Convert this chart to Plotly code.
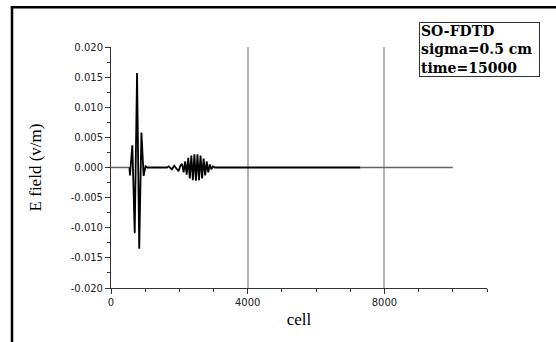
import plotly.graph_objects as go

# ---- data (turning points of the E-field trace) ----
lead_cell = [0, 540]
lead_e = [0.0, 0.0]

main_cell = [540, 554, 624, 694, 762, 826, 890, 955, 1010, 1060,
             1640, 1690, 1780, 1850, 1920, 1975, 2030,
             2080, 2125, 2170, 2215, 2260, 2305, 2350, 2395, 2440, 2485,
             2530, 2575, 2620, 2665, 2710, 2755, 2800, 2845, 2890, 2935,
             2980, 3030, 7300]
main_e = [0.0, -0.0013, 0.0037, -0.0109, 0.0157, -0.0135, 0.0058, -0.0014, 0.0002, 0.0,
          0.0, 0.0002, -0.0003, 0.0003, -0.0002, -0.0006, 0.0003,
          0.0006, -0.0008, 0.0010, -0.0012, 0.0016, -0.0018, 0.0020, -0.0021, 0.0022, -0.0022,
          0.0022, -0.0021, 0.0020, -0.0018, 0.0015, -0.0013, 0.0010, -0.0008, 0.0005, -0.0003,
          0.0002, 0.0, 0.0]

tail_cell = [7300, 10000]
tail_e = [0.0, 0.0]

y_tickvals = [-0.020, -0.015, -0.010, -0.005, 0.000, 0.005, 0.010, 0.015, 0.020]
y_ticktext = ["-0.020", "-0.015", "-0.010", "-0.005", "0.000", "0.005", "0.010", "0.015", "0.020"]
x_tickvals = [0, 4000, 8000]
x_ticktext = ["0", "4000", "8000"]

info_lines = ["SO-FDTD", "sigma=0.5 cm", "time=15000"]

fig = go.Figure()
fig.add_trace(go.Scatter(x=lead_cell, y=lead_e, mode="lines",
                         line=dict(color="#666666", width=1.5), showlegend=False))
fig.add_trace(go.Scatter(x=main_cell, y=main_e, mode="lines",
                         line=dict(color="black", width=1.8), showlegend=False))
fig.add_trace(go.Scatter(x=tail_cell, y=tail_e, mode="lines",
                         line=dict(color="#666666", width=1.5), showlegend=False))

W, H = 556, 342
L, R, T, B = 111, 69, 47, 54
pw, ph = W - L - R, H - T - B

def px(x):
    return (x - L) / pw

def py(y):
    return 1 + (T - y) / ph

tick_font = dict(family="DejaVu Sans", size=10, color="#222222")
title_font = dict(family="Liberation Serif", size=17, color="black")

fig.update_layout(
    width=W, height=H,
    margin=dict(l=L, r=R, t=T, b=B, autoexpand=False),
    paper_bgcolor="white", plot_bgcolor="white",
    showlegend=False,
    xaxis=dict(
        range=[0, 11000], showgrid=True, gridcolor="#b4b4b4", gridwidth=1.5,
        tickmode="array", tickvals=x_tickvals, ticktext=x_ticktext,
        ticks="outside", ticklen=5, tickwidth=1, tickcolor="#333333",
        minor=dict(dtick=1000, ticks="outside", ticklen=3, tickcolor="#333333", showgrid=False),
        showline=True, linecolor="#333333", linewidth=1,
        zeroline=False, tickfont=tick_font,
        title=dict(text="cell", font=title_font, standoff=6),
        automargin=False,
    ),
    yaxis=dict(
        range=[-0.02, 0.02], showgrid=False,
        tickmode="array", tickvals=y_tickvals, ticktext=y_ticktext,
        ticks="outside", ticklen=5, tickwidth=1, tickcolor="#333333",
        minor=dict(dtick=0.0025, tick0=0, ticks="outside", ticklen=3, tickcolor="#333333", showgrid=False),
        showline=True, linecolor="#333333", linewidth=1,
        zeroline=False, tickfont=tick_font,
        title=dict(text="E field (v/m)", font=title_font, standoff=24),
        automargin=False,
    ),
    shapes=[
        dict(type="line", xref="paper", yref="paper",
             x0=px(12), x1=px(12), y0=py(400), y1=py(6.2),
             line=dict(color="black", width=2.5)),
        dict(type="line", xref="paper", yref="paper",
             x0=px(10.8), x1=px(600), y0=py(7.3), y1=py(7.3),
             line=dict(color="black", width=2.5)),
    ],
    annotations=[
        dict(text="<br>".join(info_lines), xref="paper", yref="paper",
             x=px(419), y=py(22), xanchor="left", yanchor="top",
             align="left", valign="middle", showarrow=False,
             font=dict(family="DejaVu Serif", size=14, color="black", weight="bold"),
             bordercolor="#333333", borderwidth=1, borderpad=1,
             width=117, height=51, bgcolor="white"),
    ],
)

fig.write_html("out.html")
